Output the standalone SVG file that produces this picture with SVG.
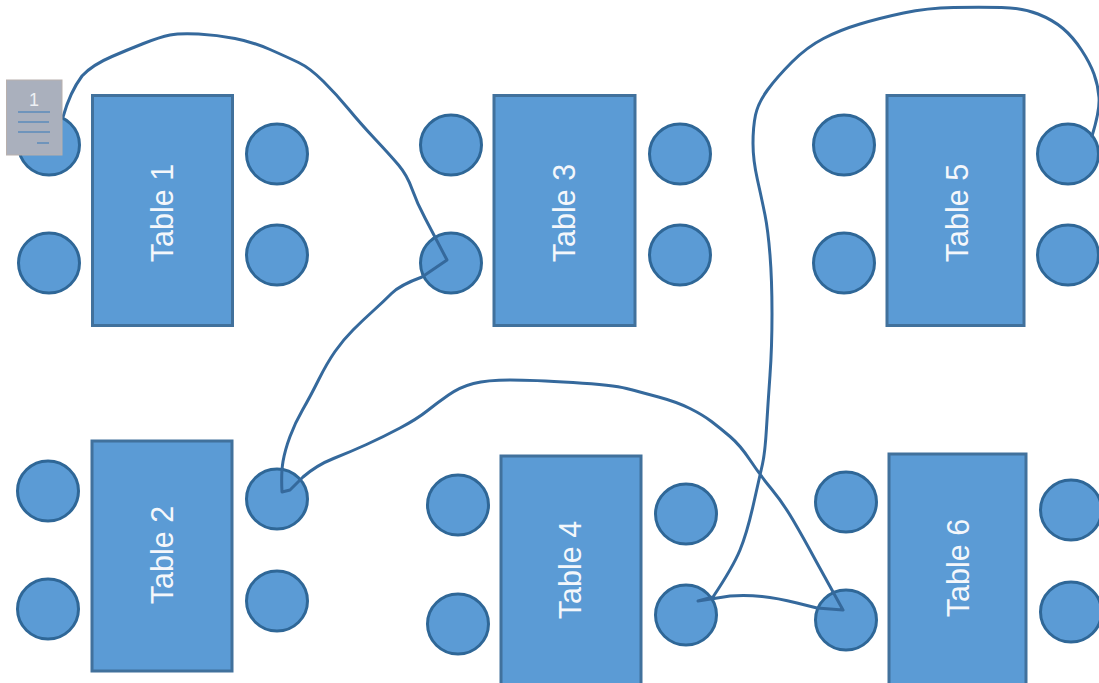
<svg xmlns="http://www.w3.org/2000/svg" width="1099" height="683" viewBox="0 0 1099 683">
<style>
.t{fill:#5b9bd5;stroke:#41719c;stroke-width:3}
.s{fill:#5b9bd5;stroke:#2f6797;stroke-width:3}
.l{font-family:"Liberation Sans",Arial,sans-serif;font-size:30.500px;fill:#f4f7fb;text-anchor:middle}
.c{fill:none;stroke:#35699c;stroke-width:3;stroke-linejoin:round;stroke-linecap:round}
.n{stroke:#6f94bb;stroke-width:2}
</style>
<rect width="1099" height="683" fill="#fff"/>
<g id="table1"><rect class="t" x="92.500" y="95.500" width="140" height="230"/><text class="l" transform="translate(172.500,213) rotate(-90)">Table 1</text></g>
<g id="table2"><rect class="t" x="92" y="441" width="140" height="230"/><text class="l" transform="translate(172.500,555) rotate(-90)">Table 2</text></g>
<g id="table3"><rect class="t" x="494" y="95.500" width="141" height="230"/><text class="l" transform="translate(575,213) rotate(-90)">Table 3</text></g>
<g id="table4"><rect class="t" x="501" y="456" width="140" height="235"/><text class="l" transform="translate(580.500,570) rotate(-90)">Table 4</text></g>
<g id="table5"><rect class="t" x="887" y="95.500" width="137" height="230"/><text class="l" transform="translate(968,213) rotate(-90)">Table 5</text></g>
<g id="table6"><rect class="t" x="889" y="454" width="137" height="235"/><text class="l" transform="translate(968.500,568) rotate(-90)">Table 6</text></g>
<g id="seats">
<ellipse class="s" cx="49" cy="145" rx="30.500" ry="30"/>
<ellipse class="s" cx="49" cy="263" rx="30.500" ry="30"/>
<ellipse class="s" cx="277" cy="154" rx="30.500" ry="30"/>
<ellipse class="s" cx="277" cy="255" rx="30.500" ry="30"/>
<ellipse class="s" cx="451" cy="145" rx="30.500" ry="30"/>
<ellipse class="s" cx="451" cy="263" rx="30.500" ry="30"/>
<ellipse class="s" cx="680" cy="154" rx="30.500" ry="30"/>
<ellipse class="s" cx="680" cy="255" rx="30.500" ry="30"/>
<ellipse class="s" cx="844" cy="145" rx="30.500" ry="30"/>
<ellipse class="s" cx="844" cy="263" rx="30.500" ry="30"/>
<ellipse class="s" cx="1068" cy="154" rx="30.500" ry="30"/>
<ellipse class="s" cx="1068" cy="255" rx="30.500" ry="30"/>
<ellipse class="s" cx="48" cy="491" rx="30.500" ry="30"/>
<ellipse class="s" cx="48" cy="609" rx="30.500" ry="30"/>
<ellipse class="s" cx="277" cy="499" rx="30.500" ry="30"/>
<ellipse class="s" cx="277" cy="601" rx="30.500" ry="30"/>
<ellipse class="s" cx="458" cy="505" rx="30.500" ry="30"/>
<ellipse class="s" cx="458" cy="624" rx="30.500" ry="30"/>
<ellipse class="s" cx="686" cy="514" rx="30.500" ry="30"/>
<ellipse class="s" cx="686" cy="615" rx="30.500" ry="30"/>
<ellipse class="s" cx="846" cy="502" rx="30.500" ry="30"/>
<ellipse class="s" cx="846" cy="620" rx="30.500" ry="30"/>
<ellipse class="s" cx="1071" cy="510" rx="30.500" ry="30"/>
<ellipse class="s" cx="1071" cy="612" rx="30.500" ry="30"/>
</g>
<g id="connectors">
<path class="c" d="M63 117Q70 92 82 76Q92 65 112 56.500Q127 50 143.500 43.500Q160 37 170 35Q180 33 198.500 34Q217 35 235 38.500Q253 42 270 49.500Q287 57 298.500 62.500Q310 68 323.500 81.500Q337 95 348.500 109Q360 123 375 139Q390 155 398.500 165Q407 175 412 189Q417 203 425 218L447 260L422 277Q400 285 391.500 293.500Q383 302 373 311Q363 320 353 330Q343 340 335 351.500Q327 363 318.500 380Q310 397 302.500 410Q295 423 290 436.500Q285 450 283 461.500Q281 473 282 492L290 490L303 477Q317 465 333.500 458.500Q350 452 366.500 444.500Q383 437 400 428Q417 419 427 411Q437 403 448.500 395Q460 387 473.500 383.500Q487 380 510 380Q533 380 573 382.500Q613 385 626.500 388.500Q640 392 658.500 397Q677 402 690 408.500Q703 415 711.500 421.500Q720 428 730 436.500Q740 445 750 460Q760 475 771.500 489Q783 503 793 520Q803 537 816.500 562L843 610L817 608L797 603Q777 598 762 596.500Q747 595 730 596L698 601L713 597Q733 567 740 550Q747 533 753.500 504Q760 475 762.500 464Q765 453 766.500 428Q768 403 770 375Q772 347 772 313.500Q772 280 770 255Q768 230 765 215Q762 200 757.500 180Q753 160 753 143.500Q753 127 755.500 115Q758 103 767.500 90Q777 77 792 62Q807 47 823.500 38.500Q840 30 860 24Q880 18 903.500 13Q927 8 953.500 7.500Q980 7 1001.500 7.500Q1023 8 1038 14Q1053 20 1063 28.500Q1073 37 1081.500 50Q1090 63 1094 74Q1098 85 1099 97.500Q1100 110 1092 136"/>
</g>
<g id="note">
<rect x="6.500" y="80" width="55.500" height="75" fill="#aab0bd" stroke="#b8b0ad" stroke-width="1"/>
<text x="34" y="106" font-family="'Liberation Sans',Arial,sans-serif" font-size="18" fill="#eef0f4" text-anchor="middle">1</text>
<line class="n" x1="18" y1="112" x2="50" y2="112"/>
<line class="n" x1="18" y1="122" x2="49" y2="122"/>
<line class="n" x1="18" y1="132" x2="50" y2="132"/>
<line class="n" x1="37" y1="143" x2="49" y2="143"/>
</g>
</svg>
